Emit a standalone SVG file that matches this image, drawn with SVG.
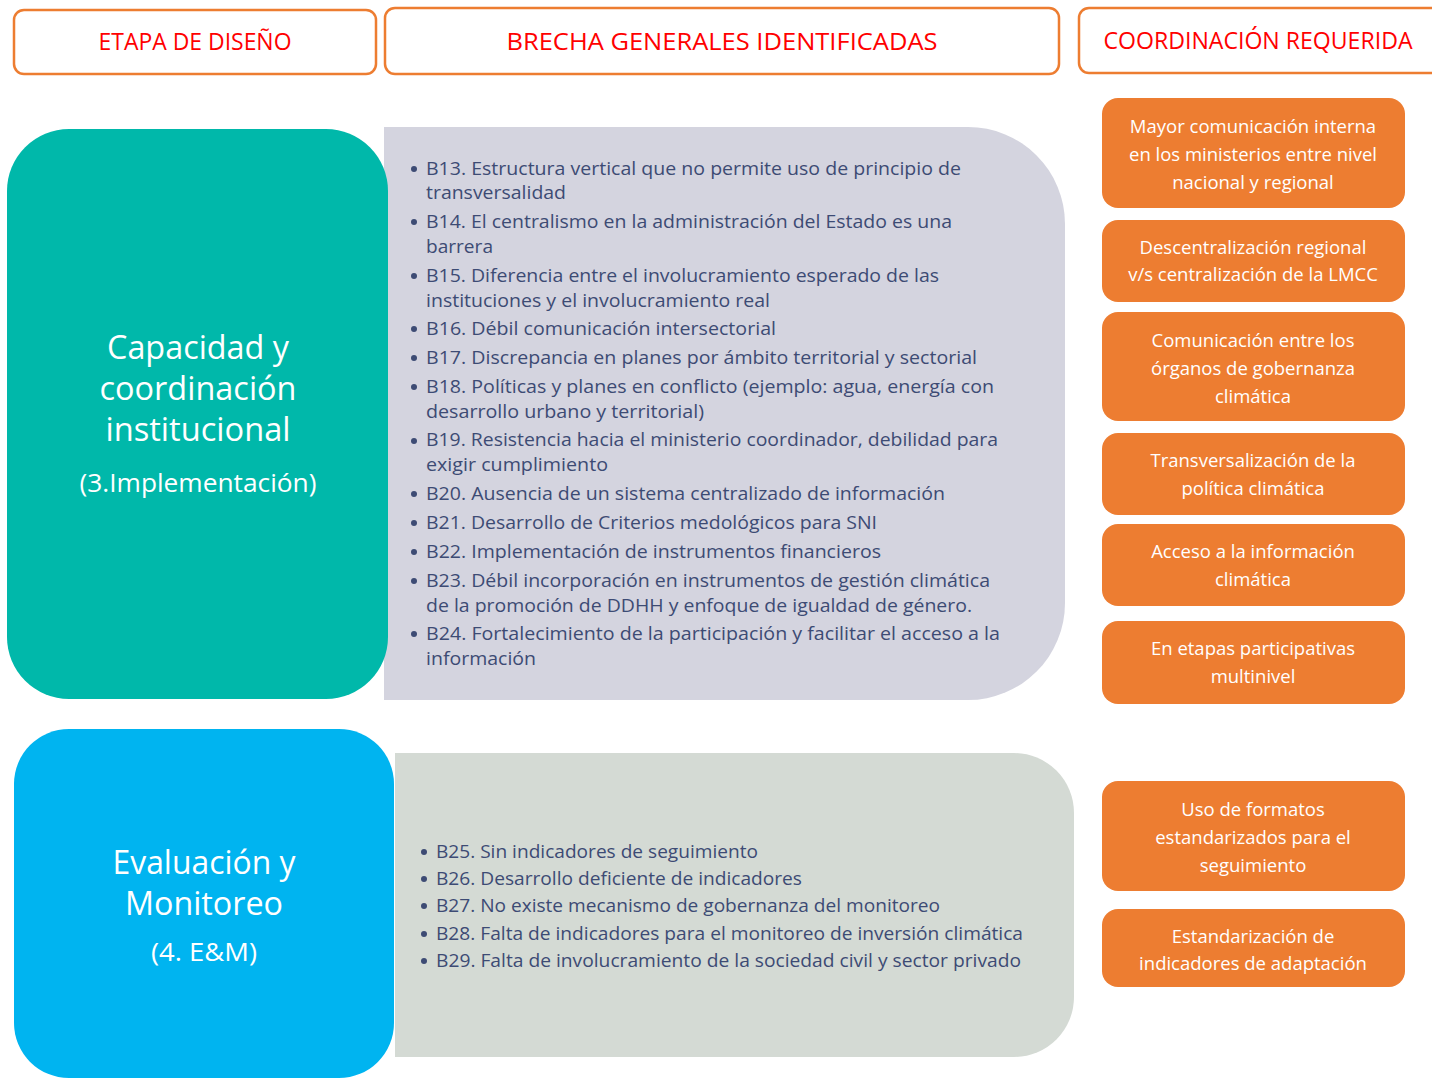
<svg xmlns="http://www.w3.org/2000/svg" width="1432" height="1078" viewBox="0 0 1432 1078">
<style>
.hdr{fill:#fff;stroke:#ED7D31;stroke-width:2.5}
.htx{fill:#FF0000;font-family:"Open Sans","Noto Sans",sans-serif;font-size:23px;text-anchor:middle}
.big{fill:#fff;font-family:"Open Sans","Noto Sans",sans-serif;text-anchor:middle}
.bul{fill:#3D4B74;font-family:"Open Sans","Noto Sans",sans-serif;font-size:19px}
.dot{fill:#3D4B74}
.ob{fill:#ED7D31}
.otx{fill:#fff;font-family:"Open Sans","Noto Sans",sans-serif;font-size:18.5px;text-anchor:middle}
</style>
<rect width="1432" height="1078" fill="#fff"/>
<g id="hdr-etapa"><rect class="hdr" x="14" y="10" width="362" height="64" rx="10"/><text class="htx" x="195" y="50" textLength="193" lengthAdjust="spacingAndGlyphs">ETAPA DE DISEÑO</text></g>
<g id="hdr-brecha"><rect class="hdr" x="385" y="8" width="674" height="66" rx="10"/><text class="htx" x="722" y="50" textLength="431" lengthAdjust="spacingAndGlyphs">BRECHA GENERALES IDENTIFICADAS</text></g>
<g id="hdr-coord"><rect class="hdr" x="1079" y="8" width="370" height="65" rx="10"/><text class="htx" x="1258" y="49" textLength="309" lengthAdjust="spacingAndGlyphs">COORDINACIÓN REQUERIDA</text></g>

<g id="gaps-1">
<path d="M384,127 H968 A97,97 0 0 1 1065,224 V603 A97,97 0 0 1 968,700 H384 Z" fill="#D4D4DF"/>
<g class="dot"><circle cx="414" cy="169" r="3"/><circle cx="414" cy="222" r="3"/><circle cx="414" cy="276" r="3"/><circle cx="414" cy="329" r="3"/><circle cx="414" cy="358" r="3"/><circle cx="414" cy="387" r="3"/><circle cx="414" cy="441" r="3"/><circle cx="414" cy="494" r="3"/><circle cx="414" cy="523" r="3"/><circle cx="414" cy="552" r="3"/><circle cx="414" cy="581" r="3"/><circle cx="414" cy="634" r="3"/></g>
<text class="bul" x="426" y="175" textLength="535" lengthAdjust="spacingAndGlyphs">B13. Estructura vertical que no permite uso de principio de</text>
<text class="bul" x="426" y="199" textLength="140" lengthAdjust="spacingAndGlyphs">transversalidad</text>
<text class="bul" x="426" y="228" textLength="526" lengthAdjust="spacingAndGlyphs">B14. El centralismo en la administración del Estado es una</text>
<text class="bul" x="426" y="253" textLength="67" lengthAdjust="spacingAndGlyphs">barrera</text>
<text class="bul" x="426" y="282" textLength="513" lengthAdjust="spacingAndGlyphs">B15. Diferencia entre el involucramiento esperado de las</text>
<text class="bul" x="426" y="307" textLength="344" lengthAdjust="spacingAndGlyphs">instituciones y el involucramiento real</text>
<text class="bul" x="426" y="335" textLength="350" lengthAdjust="spacingAndGlyphs">B16. Débil comunicación intersectorial</text>
<text class="bul" x="426" y="364" textLength="551" lengthAdjust="spacingAndGlyphs">B17. Discrepancia en planes por ámbito territorial y sectorial</text>
<text class="bul" x="426" y="393" textLength="568" lengthAdjust="spacingAndGlyphs">B18. Políticas y planes en conflicto (ejemplo: agua, energía con</text>
<text class="bul" x="426" y="418" textLength="278" lengthAdjust="spacingAndGlyphs">desarrollo urbano y territorial)</text>
<text class="bul" x="426" y="446" textLength="572" lengthAdjust="spacingAndGlyphs">B19. Resistencia hacia el ministerio coordinador, debilidad para</text>
<text class="bul" x="426" y="471" textLength="182" lengthAdjust="spacingAndGlyphs">exigir cumplimiento</text>
<text class="bul" x="426" y="500" textLength="519" lengthAdjust="spacingAndGlyphs">B20. Ausencia de un sistema centralizado de información</text>
<text class="bul" x="426" y="529" textLength="451" lengthAdjust="spacingAndGlyphs">B21. Desarrollo de Criterios medológicos para SNI</text>
<text class="bul" x="426" y="558" textLength="455" lengthAdjust="spacingAndGlyphs">B22. Implementación de instrumentos financieros</text>
<text class="bul" x="426" y="587" textLength="564" lengthAdjust="spacingAndGlyphs">B23. Débil incorporación en instrumentos de gestión climática</text>
<text class="bul" x="426" y="612" textLength="546" lengthAdjust="spacingAndGlyphs">de la promoción de DDHH y enfoque de igualdad de género.</text>
<text class="bul" x="426" y="640" textLength="574" lengthAdjust="spacingAndGlyphs">B24. Fortalecimiento de la participación y facilitar el acceso a la</text>
<text class="bul" x="426" y="665" textLength="110" lengthAdjust="spacingAndGlyphs">información</text>
</g>

<g id="stage-capacidad">
<rect x="7" y="129" width="381" height="570" rx="62" fill="#00B8AA"/>
<text class="big" x="198" y="359" font-size="32" textLength="182" lengthAdjust="spacingAndGlyphs">Capacidad y</text>
<text class="big" x="198" y="400" font-size="32" textLength="197" lengthAdjust="spacingAndGlyphs">coordinación</text>
<text class="big" x="198" y="441" font-size="32" textLength="185" lengthAdjust="spacingAndGlyphs">institucional</text>
<text class="big" x="198" y="492" font-size="25" textLength="237" lengthAdjust="spacingAndGlyphs">(3.Implementación)</text>
</g>

<g id="gaps-2">
<path d="M395,753 H1014 A60,60 0 0 1 1074,813 V997 A60,60 0 0 1 1014,1057 H395 Z" fill="#D4DAD4"/>
<g class="dot"><circle cx="424" cy="852" r="3"/><circle cx="424" cy="879" r="3"/><circle cx="424" cy="906" r="3"/><circle cx="424" cy="934" r="3"/><circle cx="424" cy="961" r="3"/></g>
<text class="bul" x="436" y="858" textLength="322" lengthAdjust="spacingAndGlyphs">B25. Sin indicadores de seguimiento</text>
<text class="bul" x="436" y="885" textLength="366" lengthAdjust="spacingAndGlyphs">B26. Desarrollo deficiente de indicadores</text>
<text class="bul" x="436" y="912" textLength="504" lengthAdjust="spacingAndGlyphs">B27. No existe mecanismo de gobernanza del monitoreo</text>
<text class="bul" x="436" y="940" textLength="587" lengthAdjust="spacingAndGlyphs">B28. Falta de indicadores para el monitoreo de inversión climática</text>
<text class="bul" x="436" y="967" textLength="585" lengthAdjust="spacingAndGlyphs">B29. Falta de involucramiento de la sociedad civil y sector privado</text>
</g>

<g id="stage-eym">
<rect x="14" y="729" width="380" height="349" rx="55" fill="#00B4F0"/>
<text class="big" x="204" y="874" font-size="32" textLength="183" lengthAdjust="spacingAndGlyphs">Evaluación y</text>
<text class="big" x="204" y="915" font-size="32" textLength="158" lengthAdjust="spacingAndGlyphs">Monitoreo</text>
<text class="big" x="204" y="961" font-size="25" textLength="106" lengthAdjust="spacingAndGlyphs">(4. E&amp;M)</text>
</g>

<g id="coord-1"><rect class="ob" x="1102" y="98" width="303" height="110" rx="16"/>
<text class="otx" x="1253" y="133">Mayor comunicación interna</text><text class="otx" x="1253" y="161">en los ministerios entre nivel</text><text class="otx" x="1253" y="189">nacional y regional</text></g>
<g id="coord-2"><rect class="ob" x="1102" y="220" width="303" height="82" rx="16"/>
<text class="otx" x="1253" y="254">Descentralización regional</text><text class="otx" x="1253" y="281">v/s centralización de la LMCC</text></g>
<g id="coord-3"><rect class="ob" x="1102" y="312" width="303" height="109" rx="16"/>
<text class="otx" x="1253" y="347">Comunicación entre los</text><text class="otx" x="1253" y="375">órganos de gobernanza</text><text class="otx" x="1253" y="403">climática</text></g>
<g id="coord-4"><rect class="ob" x="1102" y="433" width="303" height="82" rx="16"/>
<text class="otx" x="1253" y="467">Transversalización de la</text><text class="otx" x="1253" y="495">política climática</text></g>
<g id="coord-5"><rect class="ob" x="1102" y="524" width="303" height="82" rx="16"/>
<text class="otx" x="1253" y="558">Acceso a la información</text><text class="otx" x="1253" y="586">climática</text></g>
<g id="coord-6"><rect class="ob" x="1102" y="621" width="303" height="83" rx="16"/>
<text class="otx" x="1253" y="655">En etapas participativas</text><text class="otx" x="1253" y="683">multinivel</text></g>
<g id="coord-7"><rect class="ob" x="1102" y="781" width="303" height="110" rx="16"/>
<text class="otx" x="1253" y="816">Uso de formatos</text><text class="otx" x="1253" y="844">estandarizados para el</text><text class="otx" x="1253" y="872">seguimiento</text></g>
<g id="coord-8"><rect class="ob" x="1102" y="909" width="303" height="78" rx="16"/>
<text class="otx" x="1253" y="943">Estandarización de</text><text class="otx" x="1253" y="970">indicadores de adaptación</text></g>
<g id="connectors"/>
</svg>
